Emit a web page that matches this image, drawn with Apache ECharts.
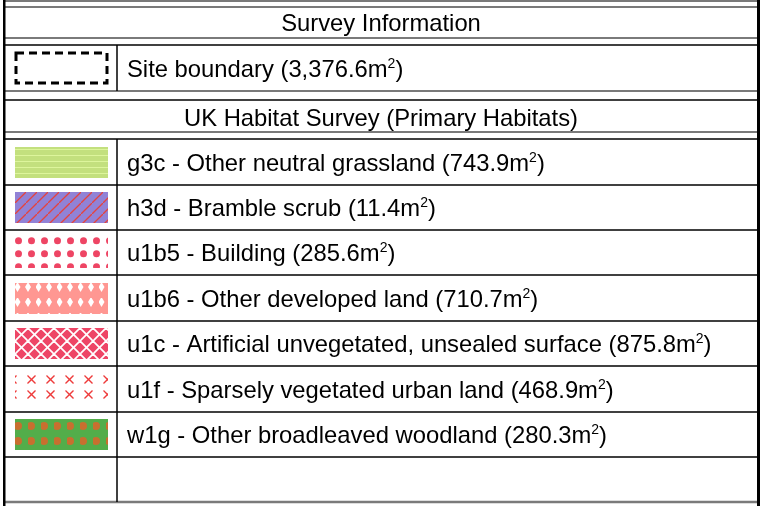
<!DOCTYPE html>
<html>
<head>
<meta charset="utf-8">
<script src="https://cdn.jsdelivr.net/npm/echarts@6/dist/echarts.min.js"></script>
<style>
  html, body { margin: 0; padding: 0; background: #fff; }
</style>
</head>
<body>
<div id="main" style="width: 763px; height: 506px"></div>
<script>
// table content
var headerTop = 'Survey Information';
var siteLabel = 'Site boundary';
var siteArea = '3,376.6';
var headerHabitat = 'UK Habitat Survey (Primary Habitats)';
var codes = ['g3c', 'h3d', 'u1b5', 'u1b6', 'u1c', 'u1f', 'w1g'];
var names = ['Other neutral grassland', 'Bramble scrub', 'Building', 'Other developed land',
  'Artificial unvegetated, unsealed surface', 'Sparsely vegetated urban land', 'Other broadleaved woodland'];
var areas = ['743.9', '11.4', '285.6', '710.7', '875.8', '468.9', '280.3'];
var rowLabels = codes.concat(['']); // last row is empty

var FONT = '"Liberation Sans", Arial, sans-serif';
var FS = 23.8;

// small canvas tiles used as pattern fills
function tile(w, h, draw) {
  var c = document.createElement('canvas');
  c.width = w; c.height = h;
  draw(c.getContext('2d'));
  return c;
}
function dot(ctx, x, y, r) { ctx.beginPath(); ctx.arc(x, y, r, 0, Math.PI * 2); ctx.fill(); }
function seg(ctx, x1, y1, x2, y2) { ctx.beginPath(); ctx.moveTo(x1, y1); ctx.lineTo(x2, y2); ctx.stroke(); }

var patterns = {
  g3c: tile(8, 6, function (ctx) {
    ctx.fillStyle = '#c3e07e'; ctx.fillRect(0, 0, 8, 6);
    ctx.fillStyle = '#ddf59c'; ctx.fillRect(0, 2, 8, 1);
  }),
  h3d: tile(11, 11, function (ctx) {
    ctx.fillStyle = '#9182d6'; ctx.fillRect(0, 0, 11, 11);
    ctx.strokeStyle = '#e5423e'; ctx.lineWidth = 1.3;
    seg(ctx, -1, 12, 12, -1); seg(ctx, -2, 1, 1, -2); seg(ctx, 10, 13, 13, 10);
  }),
  u1b5: tile(13, 13, function (ctx) {
    ctx.fillStyle = '#fff'; ctx.fillRect(0, 0, 13, 13);
    ctx.fillStyle = '#ee4564'; dot(ctx, 3.5, 3.7, 3.5);
  }),
  u1b6: tile(21, 15, function (ctx) {
    ctx.fillStyle = '#ff9792'; ctx.fillRect(0, 0, 21, 15);
    ctx.fillStyle = '#fff';
    [2.5, 13].forEach(function (x) {
      ctx.beginPath();
      ctx.moveTo(x, -1); ctx.lineTo(x + 3, 4); ctx.lineTo(x, 9); ctx.lineTo(x - 3, 4);
      ctx.closePath(); ctx.fill();
    });
  }),
  u1c: tile(13, 13, function (ctx) {
    ctx.fillStyle = '#ee4566'; ctx.fillRect(0, 0, 13, 13);
    ctx.strokeStyle = '#fff'; ctx.lineWidth = 1.8;
    seg(ctx, -1, -1, 14, 14); seg(ctx, 14, -1, -1, 14);
  }),
  u1f: tile(19, 15, function (ctx) {
    ctx.fillStyle = '#fff'; ctx.fillRect(0, 0, 19, 15);
    ctx.strokeStyle = '#ee3b3b'; ctx.lineWidth = 1.3;
    [16.5, -2.5].forEach(function (x) {
      seg(ctx, x - 4, 1.5, x + 4, 9.5); seg(ctx, x + 4, 1.5, x - 4, 9.5);
    });
  }),
  w1g: tile(13, 15, function (ctx) {
    ctx.fillStyle = '#53ad4a'; ctx.fillRect(0, 0, 13, 15);
    ctx.fillStyle = '#c86f2f'; dot(ctx, 3, 7, 4);
  })
};

var richText = {
  n: { fontSize: FS, fontFamily: FONT, color: '#000', lineHeight: 28 },
  s: { fontSize: 14, fontFamily: FONT, color: '#000', verticalAlign: 'top', padding: [1, 0, 0, 0] }
};
function areaText(label, area) {
  return '{n|' + label + ' (' + area + 'm}{s|2}{n|)}';
}

var myChart = echarts.init(document.getElementById('main'));

var grayLine = { stroke: '#7a7a7a', lineWidth: 2 };
var blackLine = { stroke: '#000', lineWidth: 1.5 };
function hline(y, style) {
  return { type: 'line', z: 10, shape: { x1: 4, y1: y, x2: 758, y2: y }, style: style };
}

myChart.setOption({
  animation: false,
  grid: { left: 4, right: 5, top: 139, bottom: 4 },
  xAxis: { type: 'value', min: 0, max: 1, show: false },
  yAxis: {
    type: 'category',
    data: rowLabels,
    inverse: true,
    axisLine: { show: false },
    axisTick: { show: false },
    axisLabel: { show: false },
    splitLine: { show: true, interval: 0, lineStyle: { color: '#000', width: 1.5 } }
  },
  graphic: [
    hline(1, grayLine),
    hline(7, grayLine),
    hline(38, grayLine),
    hline(45, blackLine),
    hline(91, grayLine),
    hline(100, blackLine),
    hline(132, grayLine),
    hline(502, { stroke: '#7a7a7a', lineWidth: 2.5 }),
    // column divider
    { type: 'line', z: 10, shape: { x1: 117, y1: 45, x2: 117, y2: 91 }, style: blackLine },
    { type: 'line', z: 10, shape: { x1: 117, y1: 139, x2: 117, y2: 502 }, style: blackLine },
    // outer borders
    { type: 'rect', z: 11, shape: { x: 3, y: 0, width: 2.5, height: 506 }, style: { fill: '#000' } },
    { type: 'rect', z: 11, shape: { x: 757, y: 0, width: 3, height: 506 }, style: { fill: '#000' } },
    // headers
    { type: 'text', z: 10, x: 381, y: 24, style: { text: headerTop, font: FS + 'px ' + FONT, fill: '#000', align: 'center', verticalAlign: 'middle' } },
    { type: 'text', z: 10, x: 381, y: 119, style: { text: headerHabitat, font: FS + 'px ' + FONT, fill: '#000', align: 'center', verticalAlign: 'middle' } },
    // site boundary row
    { type: 'rect', z: 10, shape: { x: 16, y: 53, width: 91, height: 30 }, style: { fill: null, stroke: '#000', lineWidth: 3, lineDash: [8, 5] } },
    { type: 'text', z: 10, x: 127, y: 70, style: { text: areaText(siteLabel, siteArea), rich: richText, verticalAlign: 'middle' } }
  ],
  series: [{
    type: 'custom',
    silent: true,
    data: codes.map(function (c, i) { return [0, i]; }),
    renderItem: function (params, api) {
      var i = api.value(1);
      var pt = api.coord([0, i]);
      var cy = Math.round(pt[1]);
      return {
        type: 'group',
        children: [
          {
            type: 'rect',
            x: 15, y: cy - 15,
            shape: { x: 0, y: 0, width: 93, height: 31 },
            style: { fill: { image: patterns[codes[i]], repeat: 'repeat' } }
          },
          {
            type: 'text',
            x: 127, y: cy + 2,
            style: {
              text: areaText(codes[i] + ' - ' + names[i], areas[i]),
              rich: richText,
              verticalAlign: 'middle'
            }
          }
        ]
      };
    }
  }]
});
</script>
</body>
</html>
